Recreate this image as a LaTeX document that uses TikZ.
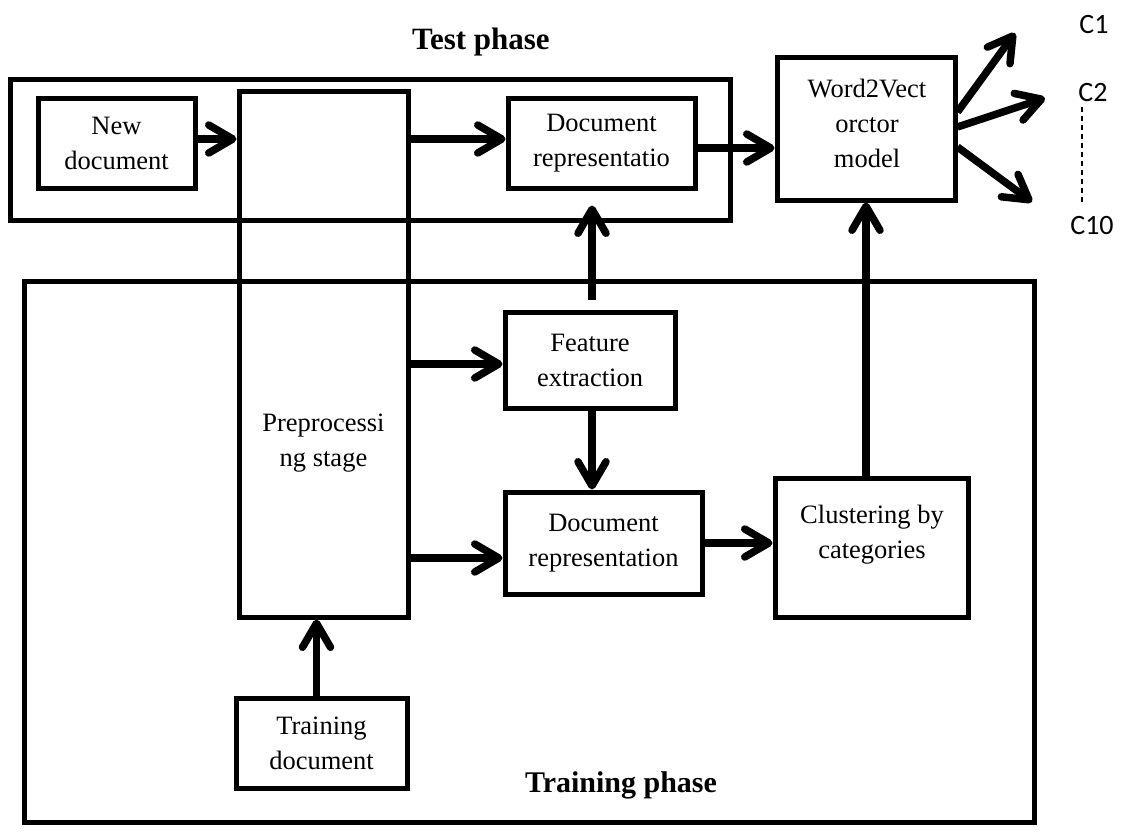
\documentclass[tikz,border=0pt]{standalone}
\usepackage{fontspec}
\setmainfont{Liberation Serif}
\newfontfamily\classfont{Carlito}
\usetikzlibrary{arrows.meta,calc}
\begin{document}
\begin{tikzpicture}[x=1pt,y=-1pt,
  box/.style={draw,line width=5pt,rectangle,inner sep=0pt},
  txt/.style={font=\fontsize{26.5}{35}\selectfont,align=center,inner sep=0pt},
  phase/.style={font=\fontsize{30}{36}\selectfont\bfseries,inner sep=0pt},
  cls/.style={font=\classfont\fontsize{28}{32}\selectfont,inner sep=0pt},
  flow/.style={line width=7.5pt,-{Straight Barb[length=24pt,width=28pt,round]}},
  dashline/.style={line width=1.5pt,dash pattern=on 5pt off 4pt}]
\useasboundingbox (0,0) rectangle (1121,832);

% phase frames
\node[box,minimum width=720pt,minimum height=140pt] (testbox) at (370,150) {};
\node[box,minimum width=1010pt,minimum height=541pt] (trainbox) at (529,551.5) {};
\node[phase,font=\fontsize{31}{36}\selectfont\bfseries] (testlabel) at (481,42) {Test phase};
\node[phase] (trainlabel) at (621,785) {Training phase};

% processing blocks
\node[box,txt,minimum width=157pt,minimum height=89pt] (newdoc) at (116.5,143.5) {New\\document};
\node[box,minimum width=169pt,minimum height=525pt] (preproc) at (323.5,354.5) {};
\node[txt] (preproclabel) at (323.5,443) {Preprocessi\\ng stage};
\node[box,txt,minimum width=187pt,minimum height=89pt] (docT) at (601.5,143.5) {Document\\representatio};
\node[box,minimum width=178pt,minimum height=142pt] (w2v) at (866,129) {};
\node[txt] (w2vlabel) at (867,123) {Word2Vect\\orctor\\model};
\node[box,txt,minimum width=170pt,minimum height=96pt] (feat) at (590,360) {Feature\\extraction};
\node[box,txt,minimum width=197pt,minimum height=102pt] (docTr) at (603.5,543) {Document\\representation};
\node[box,minimum width=193pt,minimum height=139pt] (clu) at (871.5,547.5) {};
\node[txt] (clulabel) at (872,534.5) {Clustering by\\categories};
\node[box,txt,minimum width=171pt,minimum height=90pt] (traindoc) at (321.5,743) {Training\\document};

% class labels
\node[cls] (c1) at (1094,25) {C1};
\node[cls] (c2) at (1093,93) {C2};
\node[cls] (c10) at (1092,226) {C10};

% row levels of the horizontal connectors
\coordinate (rowA) at (0,139);
\coordinate (rowB) at (0,148);
\coordinate (rowF) at (0,364);
\coordinate (rowD) at (0,558);

% connectors
\draw[flow] (newdoc.east |- rowA) -- (preproc.west |- rowA);
\draw[flow] (preproc.east |- rowA) -- (docT.west |- rowA);
\draw[flow] (docT.east |- rowB) -- (w2v.west |- rowB);
\draw[flow] (preproc.east |- rowF) -- (feat.west |- rowF);
\draw[flow] (preproc.east |- rowD) -- (docTr.west |- rowD);
\draw[flow,shorten <=10pt,shorten >=15pt] ([xshift=2pt]feat.north) -- ([xshift=2pt]feat.north |- docT.south);
\draw[flow] ([xshift=2pt]feat.south) -- ([xshift=2pt]feat.south |- docTr.north);
\draw[flow] (docTr.east) -- (docTr.east -| clu.west);
\draw[flow] (clu.north -| w2v.south) -- (w2v.south);
\draw[flow] ([xshift=-5pt]traindoc.north) -- ([xshift=-5pt]traindoc.north |- preproc.south);

% classifier outputs
\coordinate (o1) at (1015,33);
\coordinate (o2) at (1045,98);
\coordinate (o3) at (1032,202);
\draw[flow] ($(w2v.east)+(0,-17)$) -- (o1);
\draw[flow] ($(w2v.east)+(0,-2)$) -- (o2);
\draw[flow] ($(w2v.east)+(0,18)$) -- (o3);
\coordinate (dtop) at (1082,107);
\coordinate (dbot) at (1082,202);
\draw[dashline] (dtop) -- (dbot);
\end{tikzpicture}
\end{document}
